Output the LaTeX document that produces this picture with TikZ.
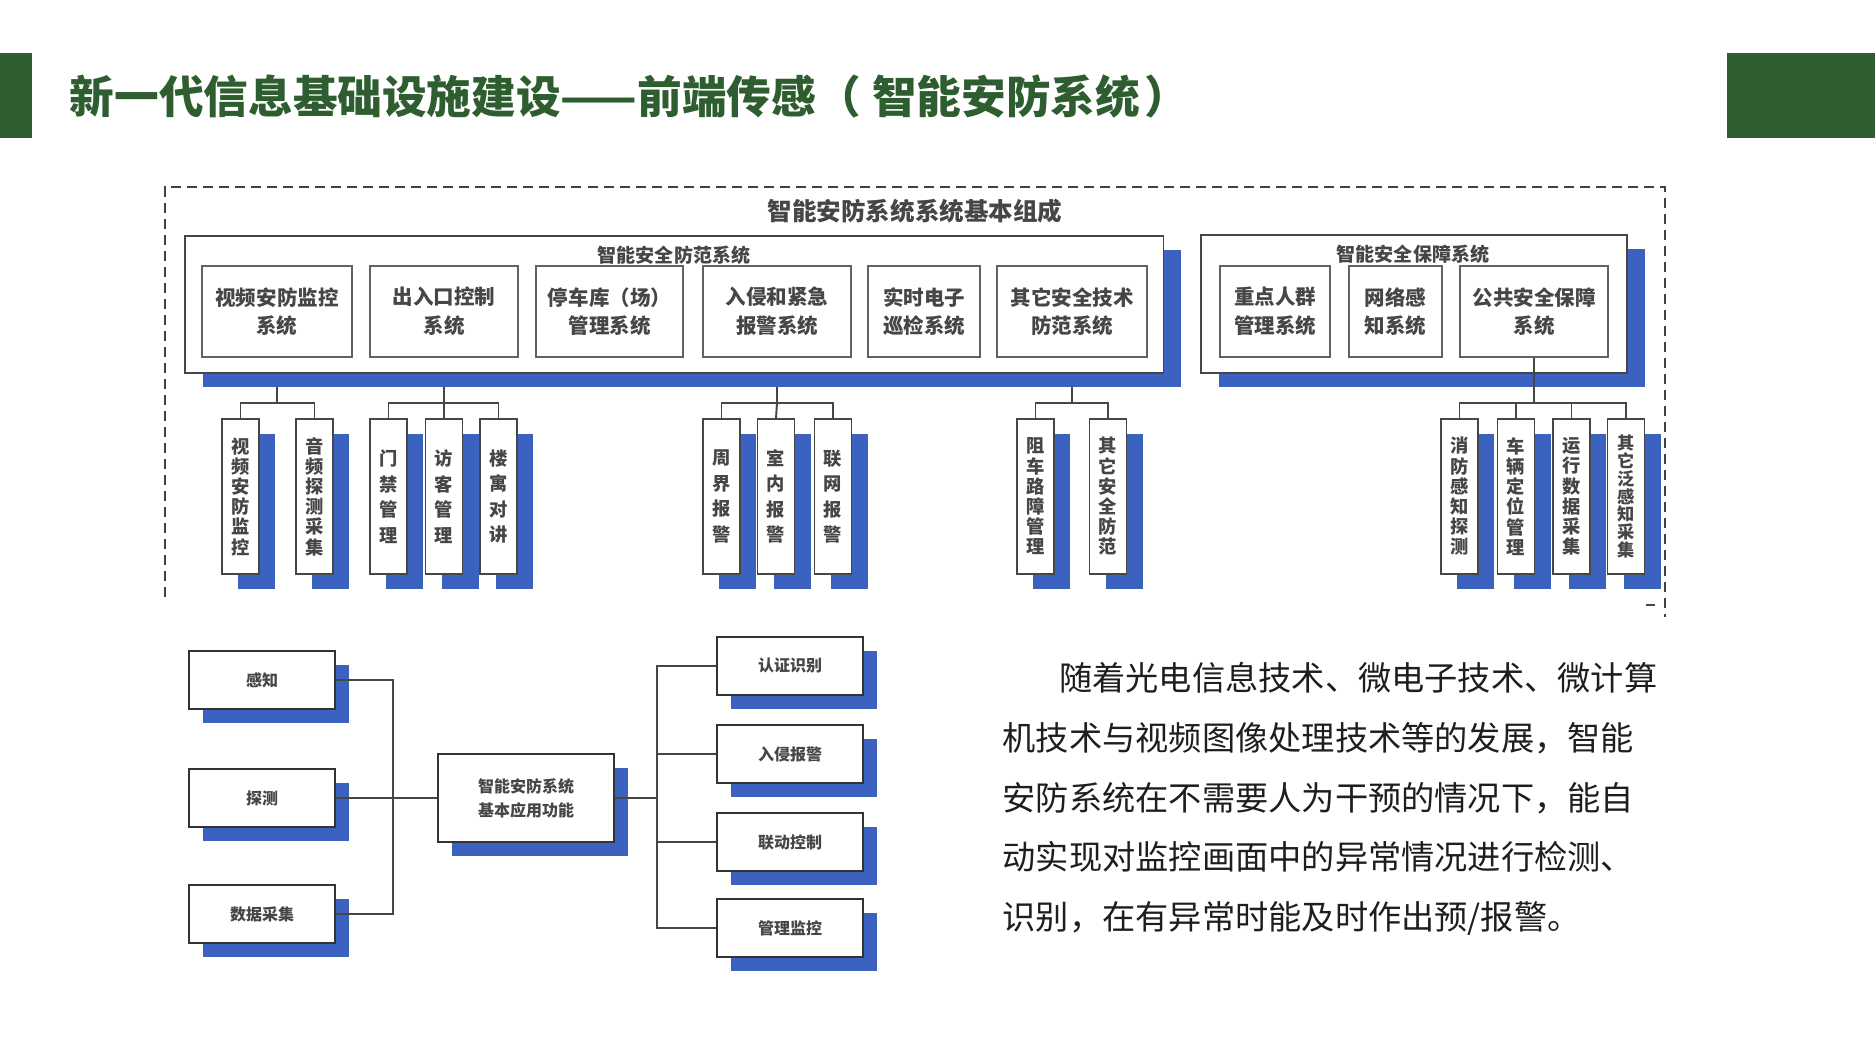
\documentclass[tikz,border=0pt]{standalone}
\usepackage{fontspec}
\setmainfont{Noto Sans CJK SC}
\usetikzlibrary{shadows,backgrounds}
\definecolor{secGreen}{RGB}{46,94,48}
\definecolor{secBlue}{RGB}{58,98,190}
\definecolor{secGray}{RGB}{70,70,70}
\definecolor{secText}{RGB}{30,30,30}

\tikzset{
  title/.style={inner sep=0pt, text=secGreen, font=\bfseries\fontsize{12.7pt}{14pt}\selectfont},
  frame/.style={draw=black!75, line width=0.7pt, dash pattern=on 0.1cm off 0.06cm},
  head/.style={inner sep=0pt, text=secGray, font=\bfseries\fontsize{6.97pt}{8pt}\selectfont},
  group/.style={draw=secGray, line width=0.45pt, fill=white,
    drop shadow={shadow xshift=0.18cm, shadow yshift=-0.14cm, fill=secBlue, opacity=1}},
  grouplabel/.style={inner sep=0pt, text=secGray, font=\bfseries\fontsize{5.41pt}{6pt}\selectfont},
  sub/.style={draw=secGray!85, line width=0.45pt, fill=white, minimum height=0.91cm,
    inner sep=0pt, align=center, text=secGray, font=\bfseries\fontsize{5.83pt}{8.1pt}\selectfont},
  leaf/.style={draw=secGray, line width=0.45pt, fill=white, minimum width=0.37cm,
    minimum height=1.55cm, inner sep=0pt, align=center, text=secGray,
    font=\bfseries\fontsize{5.2pt}{5.75pt}\selectfont,
    drop shadow={shadow xshift=0.16cm, shadow yshift=-0.15cm, fill=secBlue, opacity=1}},
  leafwide/.style={leaf, font=\bfseries\fontsize{5.2pt}{7.26pt}\selectfont},
  leaftight/.style={leaf, font=\bfseries\fontsize{4.9pt}{5.06pt}\selectfont},
  func/.style={draw=black!80, line width=0.55pt, fill=white, minimum width=1.46cm,
    minimum height=0.58cm, inner sep=0pt, align=center, text=secGray,
    font=\bfseries\fontsize{4.55pt}{6.83pt}\selectfont,
    drop shadow={shadow xshift=0.14cm, shadow yshift=-0.14cm, fill=secBlue, opacity=1}},
  tree/.style={draw=secGray, line width=0.55pt},
  para/.style={inner sep=0pt, align=left, text=secText, font=\fontsize{9.45pt}{17pt}\selectfont}
}

\begin{document}
\begin{tikzpicture}[x=0.01cm, y=-0.01cm]
  \useasboundingbox (0,0) rectangle (1875,1055);

  % Title bar
  \fill[secGreen] (0,53) rectangle (32,138);
  \fill[secGreen] (1727,53) rectangle (1875,138);
  \node[title, anchor=west] (ttl) at (69,96) {新一代信息基础设施建设——前端传感（\hspace{0.25em}智能安防系统\hspace{0.1em}）};

  % Basic composition
  \draw[frame] (165,597) -- (165,187) -- (1665,187) -- (1665,617);
  \draw[secGray, line width=0.5pt] (1646,605) -- (1655,605);
  \node[head] (comp) at (915,211) {智能安防系统系统基本组成};

  % Security prevention
  \node[group, minimum width=9.78cm, minimum height=1.37cm] (secA) at (674,304.5) {};
  \node[grouplabel] (secAlbl) at (674,255) {智能安全防范系统};
  \node[sub, minimum width=1.50cm] (s1) at (277,311.5) {视频安防监控\\系统};
  \node[sub, minimum width=1.48cm] (s2) at (444,311.5) {出入口控制\\系统};
  \node[sub, minimum width=1.47cm] (s3) at (609.5,311.5) {停车库（场）\\管理系统};
  \node[sub, minimum width=1.48cm] (s4) at (777,311.5) {入侵和紧急\\报警系统};
  \node[sub, minimum width=1.12cm] (s5) at (924,311.5) {实时电子\\巡检系统};
  \node[sub, minimum width=1.50cm] (s6) at (1072,311.5) {其它安全技术\\防范系统};

  % Security guarantee
  \node[group, minimum width=4.26cm, minimum height=1.38cm] (secB) at (1414,304) {};
  \node[grouplabel] (secBlbl) at (1413,254) {智能安全保障系统};
  \node[sub, minimum width=1.10cm] (r1) at (1275,311.5) {重点人群\\管理系统};
  \node[sub, minimum width=0.93cm] (r2) at (1395.5,311.5) {网络感\\知系统};
  \node[sub, minimum width=1.48cm] (r3) at (1534,311.5) {公共安全保障\\系统};

  % Leaves
  \node[leaf] (v11) at (240.5,496.5) {视\\频\\安\\防\\监\\控};
  \node[leaf] (v12) at (314.5,496.5) {音\\频\\探\\测\\采\\集};
  \node[leafwide] (v21) at (388.5,496.5) {门\\禁\\管\\理};
  \node[leafwide] (v22) at (444,496.5) {访\\客\\管\\理};
  \node[leafwide] (v23) at (498.5,496.5) {楼\\寓\\对\\讲};
  \node[leafwide] (v31) at (721.5,496.5) {周\\界\\报\\警};
  \node[leafwide] (v32) at (776,496.5) {室\\内\\报\\警};
  \node[leafwide] (v33) at (833,496.5) {联\\网\\报\\警};
  \node[leaf] (v41) at (1035.5,496.5) {阻\\车\\路\\障\\管\\理};
  \node[leaf] (v42) at (1108,496.5) {其\\它\\安\\全\\防\\范};
  \node[leaf] (v51) at (1459.5,496.5) {消\\防\\感\\知\\探\\测};
  \node[leaf] (v52) at (1516,496.5) {车\\辆\\定\\位\\管\\理};
  \node[leaf] (v53) at (1571.5,496.5) {运\\行\\数\\据\\采\\集};
  \node[leaftight] (v54) at (1626,496.5) {其\\它\\泛\\感\\知\\采\\集};

  % Trees behind the prevention box
  \begin{scope}[on background layer]
    \fill[white] (0,0) rectangle (1875,1055);
    \coordinate (j1) at (s1.south |- 0,403);
    \draw[tree] (s1.south) -- (j1) -| (v11.north);
    \draw[tree] (j1) -| (v12.north);
    \coordinate (j2) at (s2.south |- 0,403);
    \draw[tree] (s2.south) -- (j2) -| (v21.north);
    \draw[tree] (j2) -- (v22.north);
    \draw[tree] (j2) -| (v23.north);
    \coordinate (j3) at (s4.south |- 0,403);
    \draw[tree] (s4.south) -- (j3) -| (v31.north);
    \draw[tree] (j3) -- (v32.north);
    \draw[tree] (j3) -| (v33.north);
    \coordinate (j4) at (s6.south |- 0,403);
    \draw[tree] (s6.south) -- (j4) -| (v41.north);
    \draw[tree] (j4) -| (v42.north);
  \end{scope}
  \coordinate (j5) at (r3.south |- 0,403);
  \draw[tree] (r3.south) -- (j5) -| (v51.north);
  \draw[tree] (j5) -| (v52.north);
  \draw[tree] (j5) -| (v53.north);
  \draw[tree] (j5) -| (v54.north);

  % Basic application functions
  \node[func] (sense) at (262,680) {感知};
  \node[func] (detect) at (262,798) {探测};
  \node[func] (collect) at (262,914) {数据采集};
  \node[func, minimum width=1.76cm, minimum height=0.88cm] (core) at (526,798) {智能安防系统\\基本应用功能};
  \node[func] (auth) at (790,666) {认证识别};
  \node[func] (intr) at (790,754) {入侵报警};
  \node[func] (link) at (790,842) {联动控制};
  \node[func] (mgmt) at (790,928) {管理监控};

  \coordinate (hubL) at (393,798);
  \coordinate (hubR) at (657,798);
  \draw[tree] (sense.east) -| (hubL);
  \draw[tree] (collect.east) -| (hubL);
  \draw[tree] (detect.east) -- (core.west);
  \draw[tree] (core.east) -- (hubR);
  \foreach \n in {auth,intr,link,mgmt}
    \draw[tree] (hubR) |- (\n.west);

  % Text
  \node[para, anchor=west] (intro) at (1002,799) {\hspace*{1.7em}随着光电信息技术、微电子技术、微计算\\
    机技术与视频图像处理技术等的发展，智能\\
    安防系统在不需要人为干预的情况下，能自\\
    动实现对监控画面中的异常情况进行检测、\\
    识别，在有异常时能及时作出预/报警。};
\end{tikzpicture}
\end{document}
